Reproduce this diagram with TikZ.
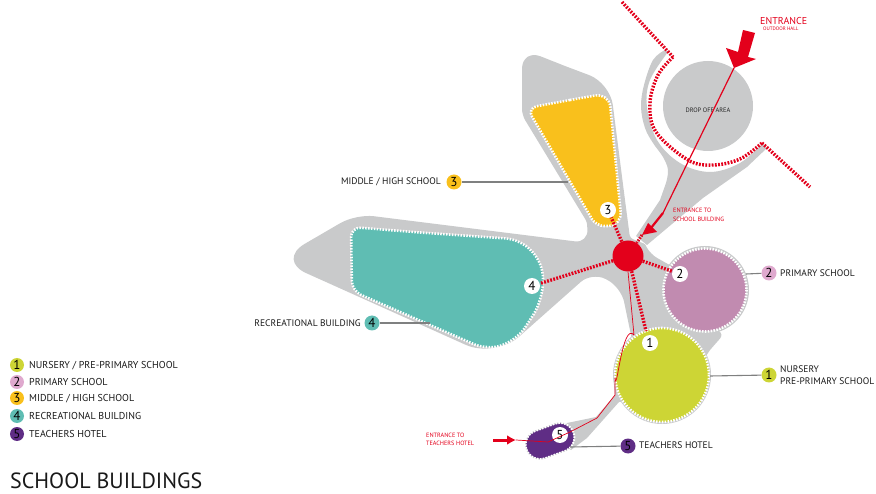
\documentclass[tikz,border=0pt]{standalone}
\usepackage{fontspec}
\usetikzlibrary{arrows.meta}
\setmainfont{PT Sans}
\definecolor{grayb}{HTML}{C9CACB}
\definecolor{redc}{HTML}{E3001B}
\definecolor{yel}{HTML}{F9C01C}
\definecolor{tealc}{HTML}{5FBDB3}
\definecolor{pinkc}{HTML}{C18BB0}
\definecolor{pinkl}{HTML}{DFA9CE}
\definecolor{limec}{HTML}{CDD535}
\definecolor{purp}{HTML}{5F2D85}
\definecolor{leader}{HTML}{7F8080}
\tikzset{
  whiteedge/.style={draw=white,line width=2.6pt,dash pattern=on 1.5pt off 1.4pt},
  reddash/.style={draw=redc,line width=3.4pt,dash pattern=on 1.8pt off 1.4pt},
  redthin/.style={draw=redc,line width=0.7pt},
  leadline/.style={draw=leader,line width=1.1pt},
  numwhite/.style={circle,fill=white,inner sep=0pt,minimum size=16pt,font=\fontsize{13}{13}\selectfont},
  badge/.style={circle,inner sep=0pt,minimum size=15pt,font=\fontsize{13}{13}\selectfont},
  lab/.style={inner sep=0pt,font=\fontsize{9.5}{11.8}\selectfont,text=black!90,align=left},
  keylab/.style={inner sep=0pt,font=\fontsize{10}{11.8}\selectfont,text=black!90,align=left},
  redsmall/.style={inner sep=0pt,text=redc,font=\fontsize{6.2}{8.5}\selectfont,align=left},
}
\begin{document}
\begin{tikzpicture}[x=1pt,y=-1pt]
\useasboundingbox (0,0) rectangle (876,494);
% grey ground
\fill[grayb] (565,66) [rounded corners=22pt] -- (610,83) [rounded corners=3pt] -- (625,200) [rounded corners=3pt] -- (630,238) [rounded corners=1pt]
  -- (645,244) [rounded corners=8pt] -- (650,254) [rounded corners=1pt] -- (675,268) [rounded corners=1pt] -- (700,320) [rounded corners=6pt] -- (724,334) [rounded corners=1pt] -- (710,350) [rounded corners=1pt] -- (690,380) [rounded corners=1pt]
  -- (640,360) [rounded corners=2pt] -- (632,340) [rounded corners=15pt] -- (621,287) [rounded corners=15pt] -- (592,272) [rounded corners=32pt] -- (495,358) [rounded corners=32pt]
  -- (277,260) [rounded corners=18pt] -- (356,214) [rounded corners=13pt] -- (588,243) [rounded corners=3pt] -- (587,222) [rounded corners=6pt] -- (522,115) [rounded corners=20pt] -- (522,49) [sharp corners] -- cycle;
\fill[grayb] plot[smooth,tension=.6] coordinates {(665,50) (653,60) (644,85) (641,107) (645,128) (653,143) (663,157) (668,170) (666,183)}
  -- (660,200) -- (636,236) -- (647,245) -- (703,198) -- (747,167) -- (767,148) -- (763,143)
  -- plot[smooth,tension=.6] coordinates {(763,143) (740,163) (710,172) (680,163) (657,140) (647,107) (650,80) (668,52)} -- cycle;
\fill[grayb] (705,290) circle[radius=44];
\fill[grayb] (662,375) circle[radius=49];
% neck to the teachers hotel
\fill[grayb] (614,385) -- (615,395) -- (596,417) -- (567,423) -- (560,440) -- (571,450) -- (587,438) -- (619,402) -- (640,400) -- cycle;
% drop off
\node[circle,fill=grayb,minimum size=90pt,inner sep=0pt] (dropoff) at (708,106) {};
\node[inner sep=0pt,font=\fontsize{6.4}{6.4}\selectfont,text=black!85] (droptext) at (708,110) {DROP OFF AREA};
% buildings
\path[fill=yel] (570,100) [rounded corners=14pt] -- (609,93) [rounded corners=14pt] -- (622,226) [rounded corners=8pt] -- (596,226) [rounded corners=10pt] -- (527,108) [sharp corners] -- cycle;
\path[whiteedge] (570,100) [rounded corners=14pt] -- (609,93) [rounded corners=14pt] -- (622,226) [rounded corners=8pt] -- (596,226) [rounded corners=10pt] -- (527,108) [sharp corners] -- cycle;
\path[fill=tealc] (420,232.5) [rounded corners=38pt] -- (543,241) [rounded corners=18pt] -- (543,300) [rounded corners=18pt] -- (515,343) [rounded corners=12pt] -- (485,349) [rounded corners=10pt] -- (352,291) [rounded corners=10pt] -- (351,227) [sharp corners] -- cycle;
\path[whiteedge] (420,232.5) [rounded corners=38pt] -- (543,241) [rounded corners=18pt] -- (543,300) [rounded corners=18pt] -- (515,343) [rounded corners=12pt] -- (485,349) [rounded corners=10pt] -- (352,291) [rounded corners=10pt] -- (351,227) [sharp corners] -- cycle;
\node[circle,fill=pinkc,minimum size=82pt,inner sep=0pt] (primary) at (705,290) {};
\draw[whiteedge] (705,290) circle[radius=41.5];
\node[circle,fill=limec,minimum size=94pt,inner sep=0pt] (nursery) at (662,375) {};
\draw[whiteedge] (662,375) circle[radius=47];
\path[fill=purp,draw=grayb,line width=1pt,rotate around={20:(550,441)},rounded corners=14.5pt] (525,426.5) rectangle (575,455.5);
\path[whiteedge,line width=2pt,rotate around={20:(550,441)},rounded corners=14.5pt] (525,426.5) rectangle (575,455.5);
% hub and numbers
\node[circle,fill=redc,minimum size=31pt,inner sep=0pt] (hub) at (628,256) {};
\node[numwhite] (n1) at (650,343) {1};
\node[numwhite] (n2) at (680,274) {2};
\node[numwhite] (n3) at (608,210) {3};
\node[numwhite] (n4) at (532,286) {4};
\node[numwhite] (n5) at (560,435) {5};
\coordinate (c1) at (646,331);
\draw[reddash] (hub) -- (c1);
\draw[reddash] (hub) -- (n2);
\draw[reddash] (hub) -- (n3);
\draw[reddash] (hub) -- (n4);
% thin entrance to the hotel
\coordinate (hotelarrow) at (516,440);
\draw[redthin,line join=round] (hub.south) -- (634,335) to[out=130,in=-85] (615,378) -- (615,395) -- (597,418) -- (570,432) -- (548,442) -- (hotelarrow);
\coordinate (hotelarrowtail) at (493,440);
\draw[redc,line width=3pt,-{Latex[length=9pt,width=10pt]}] (hotelarrowtail) -- (hotelarrow);
% outdoor walk
\coordinate (w1) at (622,2);
\coordinate (w2) at (673,57);
\coordinate (w3) at (762,143);
\coordinate (w4) at (810,187);
\draw[reddash] (w1) -- (w2);
\draw[reddash] (w3) -- (w4);
\draw[reddash] plot[smooth,tension=.6] coordinates {(w2) (658,75) (650,103) (656,132) (688,160) (713,165) (740,159) (w3)};
% entrance arrow
\coordinate (enttip) at (734,68);
\draw[redc,line width=1.2pt] (enttip) -- (663,213);
\fill[redc] (743,30) -- (755,33) -- (748,57) -- (756,59) -- (enttip) -- (726,48) -- (738,52) -- cycle;
\coordinate (schoolarrow) at (642,235);
\draw[redc,line width=2.2pt] (663,213) -- (651,228);
\fill[redc] (schoolarrow) -- (648,223) -- (652,227) -- (657,232) -- cycle;
\draw[redc,line width=3pt,dash pattern=on 1.6pt off 1.2pt] (schoolarrow) -- (hub);
% leaders and badges
\node[badge,fill=limec] (b1) at (769,375) {1};
\node[badge,fill=pinkl] (b2) at (769,273) {2};
\node[badge,fill=yel] (b3) at (454,182) {3};
\node[badge,fill=tealc] (b4) at (372,323) {4};
\node[badge,fill=purp] (b5) at (628,446) {5};
\coordinate (l1) at (710,376);
\coordinate (l2) at (746,274);
\coordinate (l3) at (568,182);
\coordinate (l4) at (430,323);
\coordinate (l5) at (570,447);
\draw[leadline] (l1) -- (b1);
\draw[leadline] (l2) -- (b2);
\draw[leadline] (l3) -- (b3);
\draw[leadline] (l4) -- (b4);
\draw[leadline] (l5) -- (b5);
\node[lab,anchor=west] (t1) at (780,375) {NURSERY\\[0pt]PRE-PRIMARY SCHOOL};
\node[lab,anchor=west] (t2) at (780,273) {PRIMARY SCHOOL};
\node[lab,anchor=east] (t3) at (441,182) {MIDDLE / HIGH SCHOOL};
\node[lab,anchor=east] (t4) at (361,323) {RECREATIONAL BUILDING};
\node[lab,anchor=west] (t5) at (639,445.5) {TEACHERS HOTEL};
% red captions
\node[inner sep=0pt,anchor=west,text=redc,font=\fontsize{10}{10}\selectfont] (ent) at (760,21) {ENTRANCE};
\node[inner sep=0pt,anchor=west,text=redc,font=\fontsize{5}{5}\selectfont] (hall) at (763,29) {OUTDOOR HALL};
\node[redsmall,anchor=west] (entschool) at (673,215) {ENTRANCE TO\\SCHOOL BUILDING};
\node[redsmall,anchor=west] (entteach) at (426,439.5) {ENTRANCE TO\\TEACHERS HOTEL};
% legend
\node[badge,fill=limec,minimum size=14pt] (k1) at (17,365) {1};
\node[badge,fill=pinkl,minimum size=14pt] (k2) at (17,382) {2};
\node[badge,fill=yel,minimum size=14pt] (k3) at (17,398) {3};
\node[badge,fill=tealc,minimum size=14pt] (k4) at (17,416) {4};
\node[badge,fill=purp,minimum size=14pt] (k5) at (17,434) {5};
\node[keylab,anchor=west] (kt1) at (29,365.5) {NURSERY / PRE-PRIMARY SCHOOL};
\node[keylab,anchor=west] (kt2) at (29,382) {PRIMARY SCHOOL};
\node[keylab,anchor=west] (kt3) at (29,398.5) {MIDDLE / HIGH SCHOOL};
\node[keylab,anchor=west] (kt4) at (29,416) {RECREATIONAL BUILDING};
\node[keylab,anchor=west] (kt5) at (29,434) {TEACHERS HOTEL};
\node[inner sep=0pt,anchor=base west,font=\fontsize{22}{22}\selectfont,text=black!90] (title) at (10,488.5) {SCHOOL BUILDINGS};
\end{tikzpicture}
\end{document}
